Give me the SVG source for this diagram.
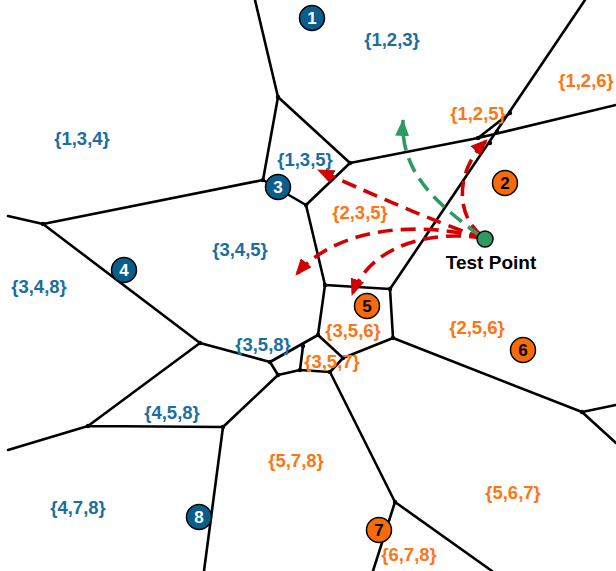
<svg xmlns="http://www.w3.org/2000/svg" width="616" height="571" viewBox="0 0 616 571">
<style>
.e{stroke:#000;stroke-width:2.6;fill:none;stroke-linecap:round;stroke-linejoin:round}
.v{fill:#000}
.lb{font-family:"Liberation Sans",Arial,sans-serif;font-weight:bold;font-size:18.5px;text-anchor:middle;fill:#1a6ea0}
.lo{font-family:"Liberation Sans",Arial,sans-serif;font-weight:bold;font-size:18.5px;text-anchor:middle;fill:#ff7414}
.nb{fill:#0b5e8c;stroke:#000;stroke-width:1.5}
.no{fill:#f96a08;stroke:#000;stroke-width:1.5}
.tw{font-family:"Liberation Sans",Arial,sans-serif;font-weight:bold;font-size:17px;text-anchor:middle;fill:#fff}
.tk{font-family:"Liberation Sans",Arial,sans-serif;font-weight:bold;font-size:17px;text-anchor:middle;fill:#000}
.ar{fill:none;stroke:#d40000;stroke-width:3.6;stroke-dasharray:15 8}
.ag{fill:none;stroke:#2e9a62;stroke-width:3.6;stroke-dasharray:15 8}
</style>
<defs>
<marker id="mr" viewBox="0 0 17 14" refX="16" refY="7" markerWidth="17" markerHeight="14" markerUnits="userSpaceOnUse" orient="auto"><path d="M0,0 L17,7 L0,14 Z" fill="#d40000"/></marker>
<marker id="mg" viewBox="0 0 17 14" refX="16" refY="7" markerWidth="17" markerHeight="14" markerUnits="userSpaceOnUse" orient="auto"><path d="M0,0 L17,7 L0,14 Z" fill="#2e9a62"/></marker>
</defs>
<rect width="616" height="571" fill="#fff"/>
<g id="edges">
<path class="e" d="M255,0 L278,97 L350,163 M278,97 L263,180 L43,224 L8,216 M263,180 L306,205 L350,163 M306,205 L325,285 M350,163 L478,138 L616,105 M478,138 L510,113 M585,0 L390,289 M325,285 L390,289 L393,338 M325,285 L318,335 M393,338 L343,358 M393,338 L582,412 L616,405 M582,412 L616,443 M43,224 L200,343 L270,362 M200,343 L88,426 L8,450 M88,426 L223,427 L278,375 M223,427 L204,571 M270,362 L318,335 M303,346 L300,370 M270,362 L278,375 L300,370 L330,372 M318,335 L343,358 L330,372 L395,502 L492,571 M395,502 L373,571"/>
<g class="v">
<circle cx="278" cy="97" r="2.2"/><circle cx="350" cy="163" r="2.2"/><circle cx="263" cy="180" r="2.2"/><circle cx="43" cy="224" r="2.2"/><circle cx="306" cy="205" r="2.2"/><circle cx="478" cy="138" r="2.2"/><circle cx="510" cy="113" r="2.2"/><circle cx="497" cy="132" r="2.2"/><circle cx="490" cy="143" r="2.2"/><circle cx="325" cy="285" r="2.2"/><circle cx="390" cy="289" r="2.2"/><circle cx="393" cy="338" r="2.2"/><circle cx="318" cy="335" r="2.2"/><circle cx="343" cy="358" r="2.2"/><circle cx="330" cy="372" r="2.2"/><circle cx="300" cy="370" r="2.2"/><circle cx="303" cy="346" r="2.2"/><circle cx="270" cy="362" r="2.2"/><circle cx="278" cy="375" r="2.2"/><circle cx="200" cy="343" r="2.2"/><circle cx="88" cy="426" r="2.2"/><circle cx="223" cy="427" r="2.2"/><circle cx="395" cy="502" r="2.2"/><circle cx="582" cy="412" r="2.2"/>
</g>
</g>
<g id="labels">
<text class="lb" x="392" y="46">{1,2,3}</text>
<text class="lo" x="586" y="87">{1,2,6}</text>
<text class="lo" x="478" y="120">{1,2,5}</text>
<text class="lb" x="82" y="145">{1,3,4}</text>
<text class="lb" x="305" y="166">{1,3,5}</text>
<text class="lo" x="360" y="219">{2,3,5}</text>
<text class="lb" x="240" y="256">{3,4,5}</text>
<text class="lb" x="39" y="293">{3,4,8}</text>
<text class="lb" x="263" y="351">{3,5,8}</text>
<text class="lo" x="353" y="337">{3,5,6}</text>
<text class="lo" x="332" y="368">{3,5,7}</text>
<text class="lo" x="477" y="334">{2,5,6}</text>
<text class="lb" x="172" y="419">{4,5,8}</text>
<text class="lo" x="296" y="467">{5,7,8}</text>
<text class="lb" x="78" y="514">{4,7,8}</text>
<text class="lo" x="513" y="499">{5,6,7}</text>
<text class="lo" x="409" y="561">{6,7,8}</text>
</g>
<g id="connectors">
<path class="ar" d="M484,238 Q440,225 318,170" marker-end="url(#mr)"/>
<path class="ar" d="M484,238 C415,220 335,228 296,275" marker-end="url(#mr)"/>
<path class="ar" d="M484,238 C430,230 370,245 352,295" marker-end="url(#mr)"/>
<path class="ar" d="M482,236 C455,215 455,170 487,140" marker-end="url(#mr)"/>
<path class="ag" d="M480,236 C440,205 400,175 403,120" marker-end="url(#mg)"/>
</g>
<g id="node1"><circle class="nb" cx="312" cy="18" r="12.5"/><text class="tw" x="312" y="24">1</text></g>
<g id="node2"><circle class="no" cx="505" cy="183" r="12.5"/><text class="tk" x="505" y="189">2</text></g>
<g id="node3"><circle class="nb" cx="278" cy="187" r="12.5"/><text class="tw" x="278" y="193">3</text></g>
<g id="node4"><circle class="nb" cx="124" cy="270" r="12.5"/><text class="tw" x="124" y="276">4</text></g>
<g id="node5"><circle class="no" cx="367" cy="306" r="12.5"/><text class="tk" x="367" y="312">5</text></g>
<g id="node6"><circle class="no" cx="523" cy="350" r="12.5"/><text class="tk" x="523" y="356">6</text></g>
<g id="node7"><circle class="no" cx="379" cy="530" r="12.5"/><text class="tk" x="379" y="536">7</text></g>
<g id="node8"><circle class="nb" cx="199" cy="517" r="12.5"/><text class="tw" x="199" y="523">8</text></g>
<g id="testpoint"><circle cx="485" cy="239" r="8" fill="#2e9a62" stroke="#000" stroke-width="1.5"/><text x="491" y="269" font-family="Liberation Sans,Arial,sans-serif" font-weight="bold" font-size="19" text-anchor="middle" fill="#000">Test Point</text></g>
</svg>
